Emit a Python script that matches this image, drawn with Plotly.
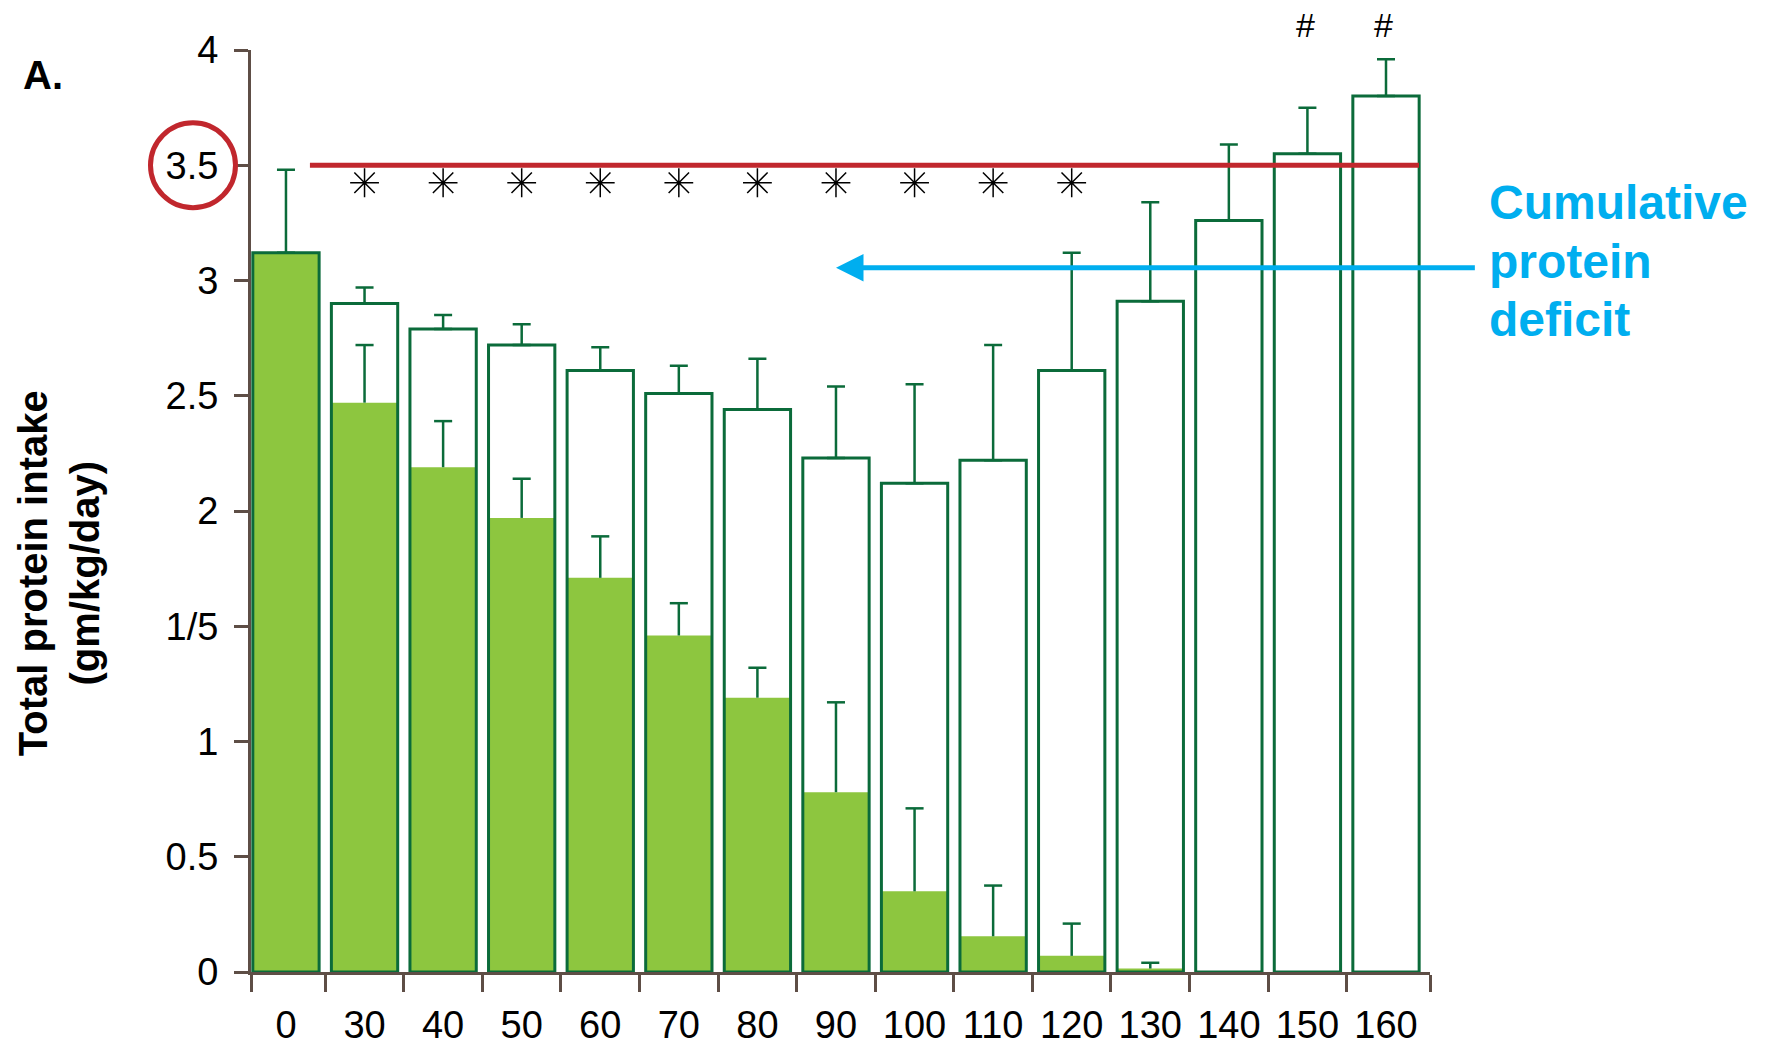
import plotly.graph_objects as go

# ---------------- data ----------------
days = ["0", "30", "40", "50", "60", "70", "80", "90", "100", "110", "120", "130", "140", "150", "160"]
# prescribed / total protein intake (outlined bars) and upper SE
total_intake = [3.12, 2.90, 2.79, 2.72, 2.61, 2.51, 2.44, 2.23, 2.12, 2.22, 2.61, 2.91, 3.26, 3.55, 3.80]
total_err = [0.36, 0.07, 0.06, 0.09, 0.10, 0.12, 0.22, 0.31, 0.43, 0.50, 0.51, 0.43, 0.33, 0.20, 0.16]
# actual intake (green filled bars) and upper SE
green_intake = [3.12, 2.47, 2.19, 1.97, 1.71, 1.46, 1.19, 0.78, 0.35, 0.155, 0.07, 0.015, 0, 0, 0]
green_err = [0, 0.25, 0.20, 0.17, 0.18, 0.14, 0.13, 0.39, 0.36, 0.22, 0.14, 0.025, 0, 0, 0]
star_days = ["30", "40", "50", "60", "70", "80", "90", "100", "110", "120"]
hash_days = ["150", "160"]
target = 3.5
deficit_level = 3.055
y_tickvals = [0, 0.5, 1, 1.5, 2, 2.5, 3, 3.5, 4]
y_ticktext = ["0", "0.5", "1", "1/5", "2", "2.5", "3", "3.5", "4"]

# ---------------- style ----------------
FONT = "Liberation Sans, Arial, Helvetica, sans-serif"
GREEN = "#8DC63F"
DKGREEN = "#0B6B3A"
RED = "#C1272D"
BLUE = "#00AEEF"
AX = "#5E4E46"
BARW = 0.844
CAP = 0.115          # half cap width in category units
XMIN, XMAX = -0.445, 14.56

idx = list(range(len(days)))
green_plot = [v if v > 0 else None for v in green_intake]

# error whiskers for green bars (upper only, no lower shoe)
ex, ey = [], []
for i, (v, e) in enumerate(zip(green_intake, green_err)):
    if v > 0 and e > 0:
        ex += [i, i, None, i - CAP, i + CAP, None]
        ey += [v, v + e, None, v + e, v + e, None]

fig = go.Figure()
fig.add_trace(go.Bar(
    x=idx, y=green_plot, width=BARW,
    marker=dict(color=GREEN, line=dict(width=0)),
    showlegend=False, hoverinfo="skip"))
fig.add_trace(go.Bar(
    x=idx, y=total_intake, width=BARW,
    marker=dict(color="rgba(0,0,0,0)", line=dict(color=DKGREEN, width=3)),
    error_y=dict(type="data", array=total_err, symmetric=False,
                 arrayminus=[0] * len(idx), color=DKGREEN, thickness=2.5, width=9),
    showlegend=False, hoverinfo="skip"))
fig.add_trace(go.Scatter(
    x=ex, y=ey, mode="lines", line=dict(color=DKGREEN, width=2.5),
    showlegend=False, hoverinfo="skip"))
fig.add_trace(go.Scatter(
    x=[days.index(d) for d in star_days], y=[3.424] * len(star_days),
    mode="markers", xaxis="x2",
    marker=dict(symbol="asterisk-open", size=24, color="black",
                line=dict(color="black", width=1.5)),
    showlegend=False, hoverinfo="skip"))

boundaries = [XMIN] + [i + 0.5 for i in range(len(days) - 1)] + [XMAX]

fig.update_layout(
    width=1771, height=1045,
    margin=dict(l=251, r=341, t=50, b=73),
    plot_bgcolor="white", paper_bgcolor="white",
    barmode="overlay",
    font=dict(family=FONT, color="black"),
    xaxis=dict(range=[XMIN, XMAX], tickmode="array", tickvals=boundaries,
               ticktext=[""] * len(boundaries), ticks="outside", ticklen=17,
               tickwidth=3, tickcolor=AX, showline=True, linewidth=3, linecolor=AX,
               showgrid=False, zeroline=False, automargin=False),
    xaxis2=dict(range=[XMIN, XMAX], overlaying="x", anchor="y", side="bottom",
                tickmode="array", tickvals=idx, ticktext=days, ticks="outside",
                ticklen=17, tickcolor="rgba(0,0,0,0)", showline=False,
                showgrid=False, zeroline=False, ticklabelstandoff=2, automargin=False,
                tickfont=dict(size=38, family=FONT, color="black")),
    yaxis=dict(range=[0, 4], tickmode="array", tickvals=y_tickvals, ticktext=y_ticktext,
               ticks="outside", ticklen=14, tickwidth=3, tickcolor=AX,
               showline=True, linewidth=3, linecolor=AX, showgrid=False, zeroline=False,
               ticklabelstandoff=8, automargin=False,
               tickfont=dict(size=38, family=FONT, color="black")),
)

# target line
fig.add_shape(type="line", xref="x", yref="y", x0=0.305, x1=14.42, y0=target, y1=target,
              line=dict(color=RED, width=5))
# circle around 3.5
fig.add_shape(type="circle", xref="paper", yref="paper",
              xsizemode="pixel", ysizemode="pixel",
              xanchor=-0.0492, yanchor=target / 4,
              x0=-42.5, x1=42.5, y0=-42.5, y1=42.5,
              line=dict(color=RED, width=5))

# arrow for cumulative deficit
fig.add_annotation(x=7, y=deficit_level, xref="x", yref="y",
                   ax=15.15, ay=deficit_level, axref="x", ayref="y",
                   text="", showarrow=True, arrowhead=2, arrowsize=1.1,
                   arrowwidth=5, arrowcolor=BLUE, standoff=0, startstandoff=0)
for line, yy in zip(["Cumulative", "protein", "deficit"], [0.8347, 0.7707, 0.7077]):
    fig.add_annotation(x=1.048, y=yy, xref="paper", yref="paper", xanchor="left",
                       yanchor="middle", text="<b>%s</b>" % line, showarrow=False,
                       font=dict(size=48, color=BLUE, family=FONT))

# hash markers
for d in hash_days:
    fig.add_annotation(x=days.index(d) - 0.03, y=4.11 / 4, xref="x", yref="paper", text="#",
                       xanchor="center", yanchor="middle",
                       showarrow=False, font=dict(size=34, color="black", family=FONT))

# panel label
fig.add_annotation(x=-0.1764, y=0.9734, xref="paper", yref="paper", text="<b>A.</b>",
                   xanchor="center", yanchor="middle",
                   showarrow=False, font=dict(size=40, color="black", family=FONT))
# y title
fig.add_annotation(x=-0.1633, y=0.433, xref="paper", yref="paper", textangle=-90,
                   xanchor="center", yanchor="middle",
                   text="<b>Total protein intake<br>(gm/kg/day)</b>", showarrow=False,
                   font=dict(size=40, color="black", family=FONT))

fig.write_html("out.html", config={"displayModeBar": False},
               post_script="document.body.style.margin='0';document.body.style.overflow='hidden';")
